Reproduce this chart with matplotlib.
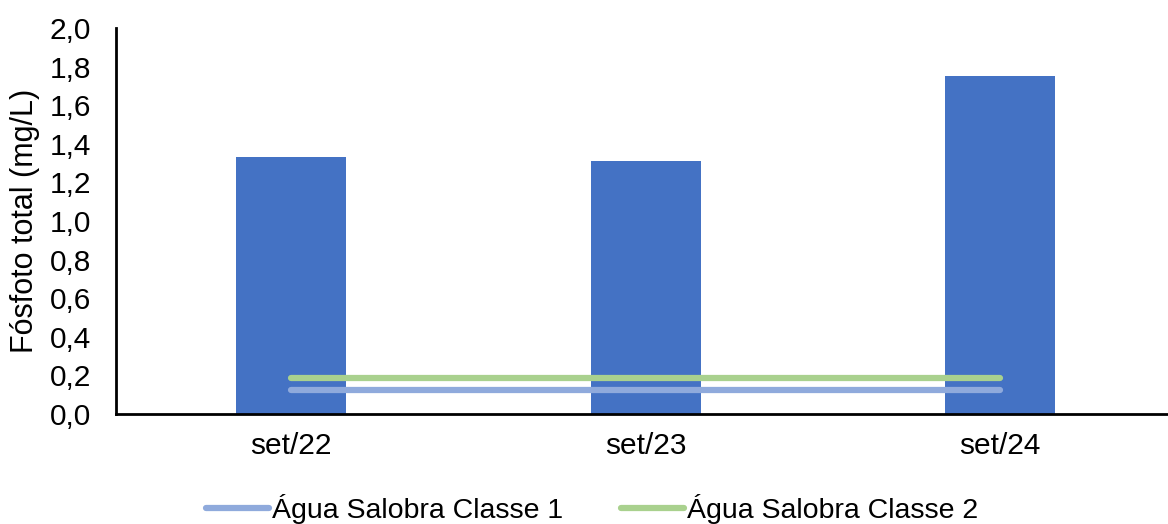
import numpy as np
import matplotlib.pyplot as plt

plt.rcParams['font.family'] = ['Liberation Sans', 'DejaVu Sans']

categorias = ['set/22', 'set/23', 'set/24']
fosforo = [1.33, 1.31, 1.75]
classe1 = [0.124, 0.124, 0.124]
classe2 = [0.186, 0.186, 0.186]

x = np.arange(len(categorias))

fig = plt.figure(figsize=(11.68, 5.24), dpi=100)
ax = fig.add_axes([116 / 1168, 1 - 414 / 524, 1 - 116 / 1168, (414 - 28) / 524])

ax.bar(x, fosforo, width=0.31, color='#4472c4', zorder=2)
ax.plot(x, classe1, color='#8faadc', lw=4.5, solid_capstyle='round',
        label='Água Salobra Classe 1', zorder=3)
ax.plot(x, classe2, color='#a9d18e', lw=4.5, solid_capstyle='round',
        label='Água Salobra Classe 2', zorder=3)

ax.set_xlim(-0.494, 2.473)
ax.set_ylim(0, 2.0)
ax.set_yticks(np.arange(0, 2.01, 0.2))
ax.set_yticklabels([f'{v:.1f}'.replace('.', ',') for v in np.arange(0, 2.01, 0.2)])
ax.set_xticks(x)
ax.set_xticklabels(categorias)
ax.tick_params(axis='y', length=0, pad=18, labelsize=21.5)
ax.tick_params(axis='x', length=0, pad=13, labelsize=21.5)

for s in ['top', 'right']:
    ax.spines[s].set_visible(False)
ax.spines['left'].set_linewidth(2)
ax.spines['bottom'].set_linewidth(2)

ax.set_ylabel('Fósfoto total (mg/L)', fontsize=22)
ax.yaxis.set_label_coords(-76 / 1052, 0.5)

fig.legend(loc='center', bbox_to_anchor=(0.507, 1 - 509 / 524), ncol=2, frameon=False,
           fontsize=20.5, handlelength=2.2, handletextpad=0.1, columnspacing=2.05)

fig.savefig('out.png', dpi=100)
